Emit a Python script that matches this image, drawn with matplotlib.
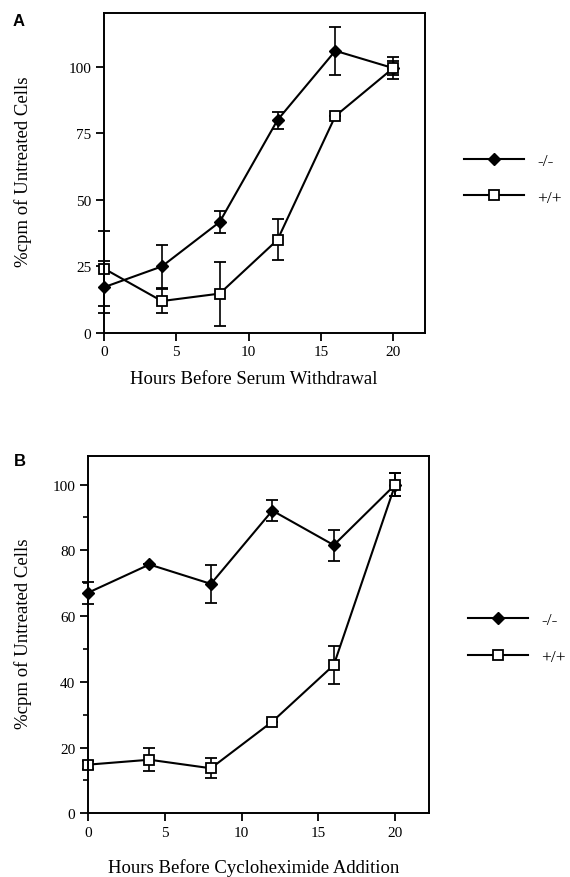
import matplotlib
matplotlib.use("Agg")
import matplotlib.pyplot as plt
from matplotlib.lines import Line2D

plt.rcParams['font.family'] = ['Liberation Serif', 'DejaVu Serif']

hours = [0, 4, 8, 12, 16, 20]
labels = ['-/-', '+/+']

# panel A: serum withdrawal
a_ko = [17.2, 25, 41.7, 80, 106, 99.5]
a_ko_err = [9.7, 8, 4, 3.2, 9, 4.1]
a_wt = [24.2, 12, 14.8, 35, 81.5, 99.5]
a_wt_err = [14, 4.5, 12, 7.7, 0, 2.7]

# panel B: cycloheximide addition
b_ko = [67.1, 75.7, 69.8, 92.1, 81.6, 100]
b_ko_err = [3.4, 0, 5.8, 3.2, 4.7, 3.5]
b_wt = [14.8, 16.3, 13.7, 27.9, 45.1, 100]
b_wt_err = [1.2, 3.5, 3, 0, 5.7, 3.5]

W, H = 570, 878
fig = plt.figure(figsize=(W / 100, H / 100), dpi=100)

ko_style = dict(color='black', lw=1.5, marker='D', ms=6.3, mfc='black', mec='black')
wt_style = dict(color='black', lw=1.5, marker='s', ms=7.4, mfc='white', mec='black', mew=1.3)


def panel(rect, ko, ko_err, wt, wt_err, ylim, yticks, minor, xlabel, letter, leg_xy):
    ax = fig.add_axes(rect)
    err_kw = dict(capsize=4.2, capthick=1.3, elinewidth=1.2)
    ax.errorbar(hours, ko, yerr=ko_err, **ko_style, **err_kw)
    ax.errorbar(hours, wt, yerr=wt_err, **wt_style, **err_kw)
    ax.set_xlim(0, 22.2)
    ax.set_ylim(*ylim)
    ax.set_xticks([0, 5, 10, 15, 20])
    ax.set_yticks(yticks)
    if minor:
        ax.set_yticks(minor, minor=True)
    ax.tick_params(direction='out', length=6, width=1.3, labelsize=11, pad=3)
    ax.tick_params(which='minor', direction='out', length=3.5, width=1.2)
    for s in ax.spines.values():
        s.set_linewidth(1.4)
    for art in ax.get_children():
        art.set_clip_on(False)

    x0, y0, w, h = rect
    fig.text(23 / W, y0 + h / 2 + 0.002, '%cpm of Untreated Cells', rotation=90,
             ha='center', va='center', fontsize=13.5)
    fig.text(254 / W, xlabel[1], xlabel[0], ha='center', va='center', fontsize=13.5)
    fig.text(letter[1], letter[2], letter[0], ha='left', va='center', fontsize=12,
             fontweight='bold', family='Liberation Sans')

    handles = [Line2D([], [], **ko_style), Line2D([], [], **wt_style)]
    ax.legend(handles, labels, loc='center left', bbox_to_anchor=leg_xy,
              bbox_transform=fig.transFigure, frameon=False, fontsize=12.5,
              handlelength=3.45, handletextpad=0.75, labelspacing=1.2,
              borderpad=0, borderaxespad=0)
    return ax


panel([104 / W, 1 - 334 / H, 321 / W, 320 / H], a_ko, a_ko_err, a_wt, a_wt_err,
      (0, 120.2), [0, 25, 50, 75, 100], None,
      ('Hours Before Serum Withdrawal', 1 - 379 / H), ('A', 13 / W, 1 - 21 / H),
      (464 / W, 1 - 180 / H))

panel([88 / W, 1 - 814.3 / H, 341 / W, 357.6 / H], b_ko, b_ko_err, b_wt, b_wt_err,
      (0, 108.8), [0, 20, 40, 60, 80, 100], [10, 30, 50, 70, 90],
      ('Hours Before Cycloheximide Addition', 1 - 868 / H), ('B', 14 / W, 1 - 462 / H),
      (468 / W, 1 - 639.5 / H))

fig.savefig('out.png', dpi=100)
